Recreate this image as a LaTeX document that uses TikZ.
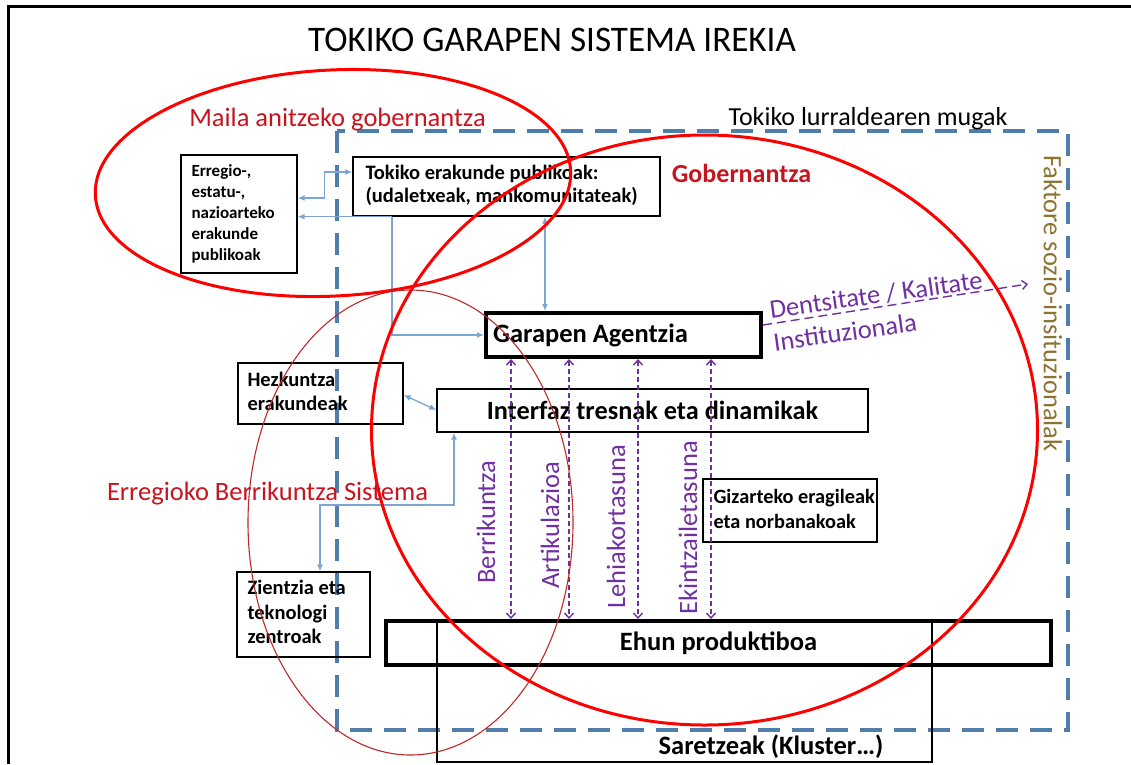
\documentclass[tikz,border=0pt]{standalone}
\usepackage{fontspec}
\setmainfont{Carlito}
\usetikzlibrary{arrows.meta}
\definecolor{dblue}{RGB}{80,126,170}
\definecolor{lblue}{RGB}{125,165,212}
\definecolor{tred}{RGB}{255,0,0}
\definecolor{dred}{RGB}{190,40,40}
\definecolor{lred}{RGB}{200,20,30}
\definecolor{purp}{RGB}{112,48,160}
\definecolor{fkol}{RGB}{140,115,50}
\newcommand{\fs}[1]{\fontsize{#1}{#1}\selectfont}
\newcommand{\fsb}[2]{\fontsize{#1}{#2}\selectfont}
\newcommand{\mylines}[1]{\begin{tabular}{@{}l@{}}#1\end{tabular}}
\begin{document}
\begin{tikzpicture}[x=1pt,y=-1pt,
  box/.style={draw=black, line width=1.3pt, inner sep=0pt},
  thickbox/.style={draw=black, line width=4pt, inner sep=0pt},
  btxt/.style={anchor=west, inner sep=0pt},
  conn/.style={draw=lblue, line width=1.3pt},
  tipb/.style={-{Latex[length=7pt,width=6pt]}},
  tipbb/.style={{Latex[length=7pt,width=6pt]}-{Latex[length=7pt,width=6pt]}},
  parr/.style={draw=purp, line width=1.4pt, dash pattern=on 5pt off 3pt,
     {Straight Barb[length=5pt,width=9pt]}-{Straight Barb[length=5pt,width=9pt]}},
  plab/.style={text=purp, font=\fs{26.5}, rotate=90, inner sep=0pt},
  bigell/.style={draw=tred, line width=3pt},
  thinell/.style={draw=dred, line width=1.1pt},
  redtxt/.style={text=lred, font=\fs{26.5}, inner sep=0pt}
]
\useasboundingbox (0,0) rectangle (1131,764);
% outer frame
\draw[line width=3pt] (8,764) -- (8,6) -- (1131,6);
% title
\node[font=\fs{36}, xscale=0.975, inner sep=0pt] (title) at (552,40) {TOKIKO GARAPEN SISTEMA IREKIA};
% territory border
\draw[dblue, line width=3.5pt, dash pattern=on 22pt off 12pt] (337,131) rectangle (1068,730);
\node[font=\fs{26}, inner sep=0pt] (mugak) at (868,119) {Tokiko lurraldearen mugak};
\node[text=fkol, font=\fs{26.5}, rotate=-90, inner sep=0pt] (faktore) at (1053,303.5) {Faktore sozio-insituzionalak};

% boxes
\node[box, minimum width=116pt, minimum height=118pt] (erregio) at (239,214) {};
\node[btxt, font=\bfseries\fsb{17}{21}] (erregioT) at ([xshift=11pt]erregio.west)
  {\mylines{Erregio-,\\estatu-,\\nazioarteko\\erakunde\\publikoak}};
\node[box, minimum width=307pt, minimum height=59pt] (tokiko) at (506.5,186.5) {};
\node[btxt, font=\bfseries\fsb{20.5}{23.5}] (tokikoT) at ([xshift=13pt]tokiko.west)
  {\mylines{Tokiko erakunde publikoak:\\(udaletxeak, mankomunitateak)}};
\node[thickbox, minimum width=275pt, minimum height=44pt] (garapen) at (623.5,335) {};
\node[btxt, font=\bfseries\fs{26.5}] (garapenT) at ([xshift=9pt]garapen.west) {Garapen Agentzia};
\node[box, font=\bfseries\fs{26.3}, minimum width=431pt, minimum height=43pt] (interfaz) at (652.5,410.5)
  {Interfaz tresnak eta dinamikak};
\node[box, minimum width=165pt, minimum height=61pt] (hezk) at (320.5,393.5) {};
\node[btxt, font=\bfseries\fsb{20.5}{24}] (hezkT) at ([xshift=10pt]hezk.west)
  {\mylines{Hezkuntza\\erakundeak}};
\node[box, minimum width=133pt, minimum height=85pt] (zient) at (303.5,614.5) {};
\node[btxt, font=\bfseries\fsb{20.5}{24.5}] (zientT) at ([xshift=11pt]zient.west)
  {\mylines{Zientzia eta\\teknologi\\zentroak}};
\node[box, minimum width=174pt, minimum height=63pt] (gizart) at (790,510.5) {};
\node[btxt, font=\bfseries\fsb{20.3}{25}] (gizartT) at ([xshift=11pt]gizart.west)
  {\mylines{Gizarteko eragileak\\eta norbanakoak}};
\node[box, minimum width=495pt, minimum height=141pt] (saretz) at (684.5,691.5) {};
\node[font=\bfseries\fs{26.5}, inner sep=0pt] (saretzT) at (771,747) {Saretzeak (Kluster…)};
\node[thickbox, font=\bfseries\fs{26.5}, minimum width=665pt, minimum height=44pt] (ehun) at (718.5,643)
  {Ehun produktiboa};

% light blue connectors
\draw[conn, tipbb] ([yshift=16pt]erregio.east) -- ++(27,0) |- ([yshift=14.5pt]tokiko.west);
\draw[conn, tipb] (tokiko.south west -| 392,0) -- (erregio.east |- tokiko.south);
\draw[conn, tipb] (tokiko.south west -| 392,0) |- (garapen.west);
\draw[conn, tipbb] (tokiko.south -| 545,0) -- (garapen.north -| 545,0);
\draw[conn, tipbb] ([yshift=-1.5pt]hezk.east) -- ([yshift=0.5pt]interfaz.west);
\draw[conn, tipbb] (zient.north -| 320,0) |- (454,505) -- (interfaz.south -| 454,0);

% purple links
\draw[parr] (garapen.south -| 511,0) -- (ehun.north -| 511,0);
\draw[parr] (garapen.south -| 569,0) -- (ehun.north -| 569,0);
\draw[parr] (garapen.south -| 638,0) -- (ehun.north -| 638,0);
\draw[parr] (garapen.south -| 711,0) -- (ehun.north -| 711,0);
\node[plab] (l1) at (486,522) {Berrikuntza};
\node[plab] (l2) at (550,525) {Artikulazioa};
\node[plab] (l3) at (616,527) {Lehiakortasuna};
\node[plab] (l4) at (688,528) {Ekintzailetasuna};
\coordinate (dend) at (1028,284);
\draw[draw=purp, line width=1.4pt, dash pattern=on 9pt off 5pt, -{Straight Barb[length=5pt,width=9pt]}] ([yshift=10pt]garapen.east) -- (dend);
\node[text=purp, font=\fs{26.5}, rotate=8, inner sep=0pt] (dens) at (876,295) {Dentsitate / Kalitate};
\node[text=purp, font=\fs{26.5}, rotate=8, inner sep=0pt] (inst) at (845,332) {Instituzionala};

% ellipses
\draw[bigell, rotate around={3:(333,183)}] (333,183) ellipse [x radius=238, y radius=113];
\draw[bigell] (704.5,430) ellipse [x radius=333, y radius=295];
\draw[thinell] (410.5,522.5) ellipse [x radius=162.5, y radius=232.5];

% red labels
\node[redtxt] (maila) at (337.5,120) {Maila anitzeko gobernantza};
\node[redtxt, font=\bfseries\fs{26}] (gobern) at (741.5,173) {Gobernantza};
\node[redtxt] (erb) at (267.5,494) {Erregioko Berrikuntza Sistema};
\end{tikzpicture}
\end{document}
